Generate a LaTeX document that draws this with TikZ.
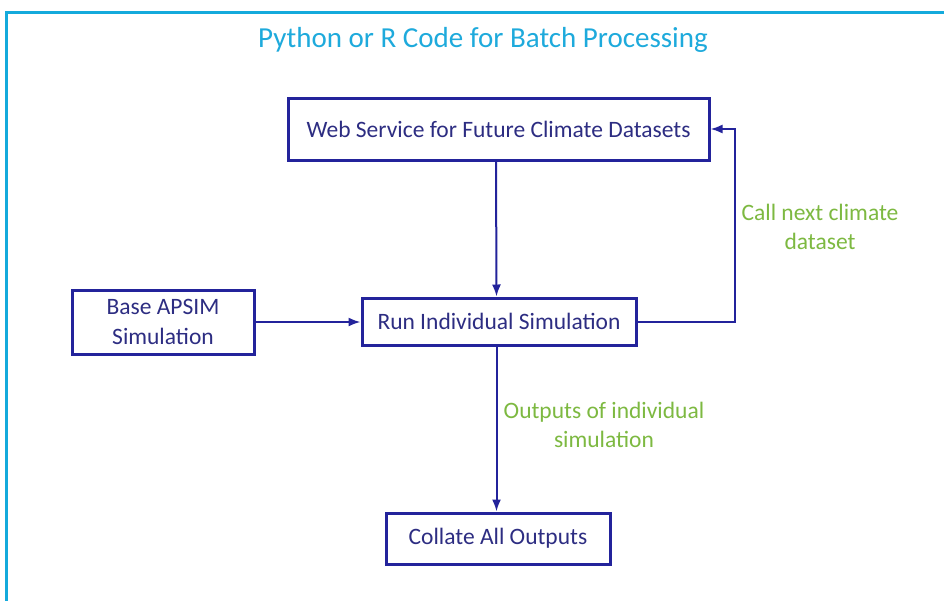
\documentclass[tikz,border=0pt]{standalone}
\usepackage{fontspec}
\setmainfont{Carlito}
\usetikzlibrary{arrows.meta}
\definecolor{frameblue}{RGB}{20,170,220}
\definecolor{titleblue}{RGB}{30,170,220}
\definecolor{navy}{RGB}{35,35,155}
\definecolor{navytext}{RGB}{45,45,130}
\definecolor{lblgreen}{RGB}{125,185,65}
\tikzset{
  box/.style={draw=navy, line width=3pt, fill=white, text=navytext, font=\fontsize{23.5}{30}\selectfont, align=center, inner sep=0pt},
  conn/.style={draw=navy, line width=2pt, -{Latex[length=12pt,width=9pt]}},
  lbl/.style={text=lblgreen, font=\fontsize{23.5}{29}\selectfont, align=center},
}
\begin{document}
\begin{tikzpicture}[x=1pt,y=-1pt]
\useasboundingbox (0,0) rectangle (944,600);
\fill[white] (0,0) rectangle (944,600);
\draw[frameblue, line width=3pt] (960,12) -- (6,12) -- (6,620);
\node[text=titleblue, font=\fontsize{29}{34}\selectfont] (title) at (483,40) {Python or R Code for Batch Processing};
\node[box, minimum width=421pt, minimum height=62pt] (web) at (498.5,129) {Web Service for Future Climate Datasets};
\node[box, minimum width=182pt, minimum height=64pt] (base) at (163,322) {Base APSIM\\Simulation};
\node[box, minimum width=274pt, minimum height=47pt] (run) at (499,321.5) {Run Individual Simulation};
\node[box, minimum width=224pt, minimum height=51pt] (coll) at (498,538.5) {Collate All Outputs};
\coordinate (loop) at (735,321.5);
\draw[conn] ([xshift=-2.5pt]web.south) -- ([xshift=-2.5pt]run.north);
\draw[conn] (base.east) -- (run.west |- base.east);
\draw[conn] (run.east) -- (loop) |- (web.east);
\draw[conn] ([xshift=-2.5pt]run.south) -- ([xshift=-1.5pt]coll.north);
\node[lbl] (l1) at (820,227) {Call next climate\\dataset};
\node[lbl] (l2) at (604,425) {Outputs of individual\\simulation};
\end{tikzpicture}
\end{document}
